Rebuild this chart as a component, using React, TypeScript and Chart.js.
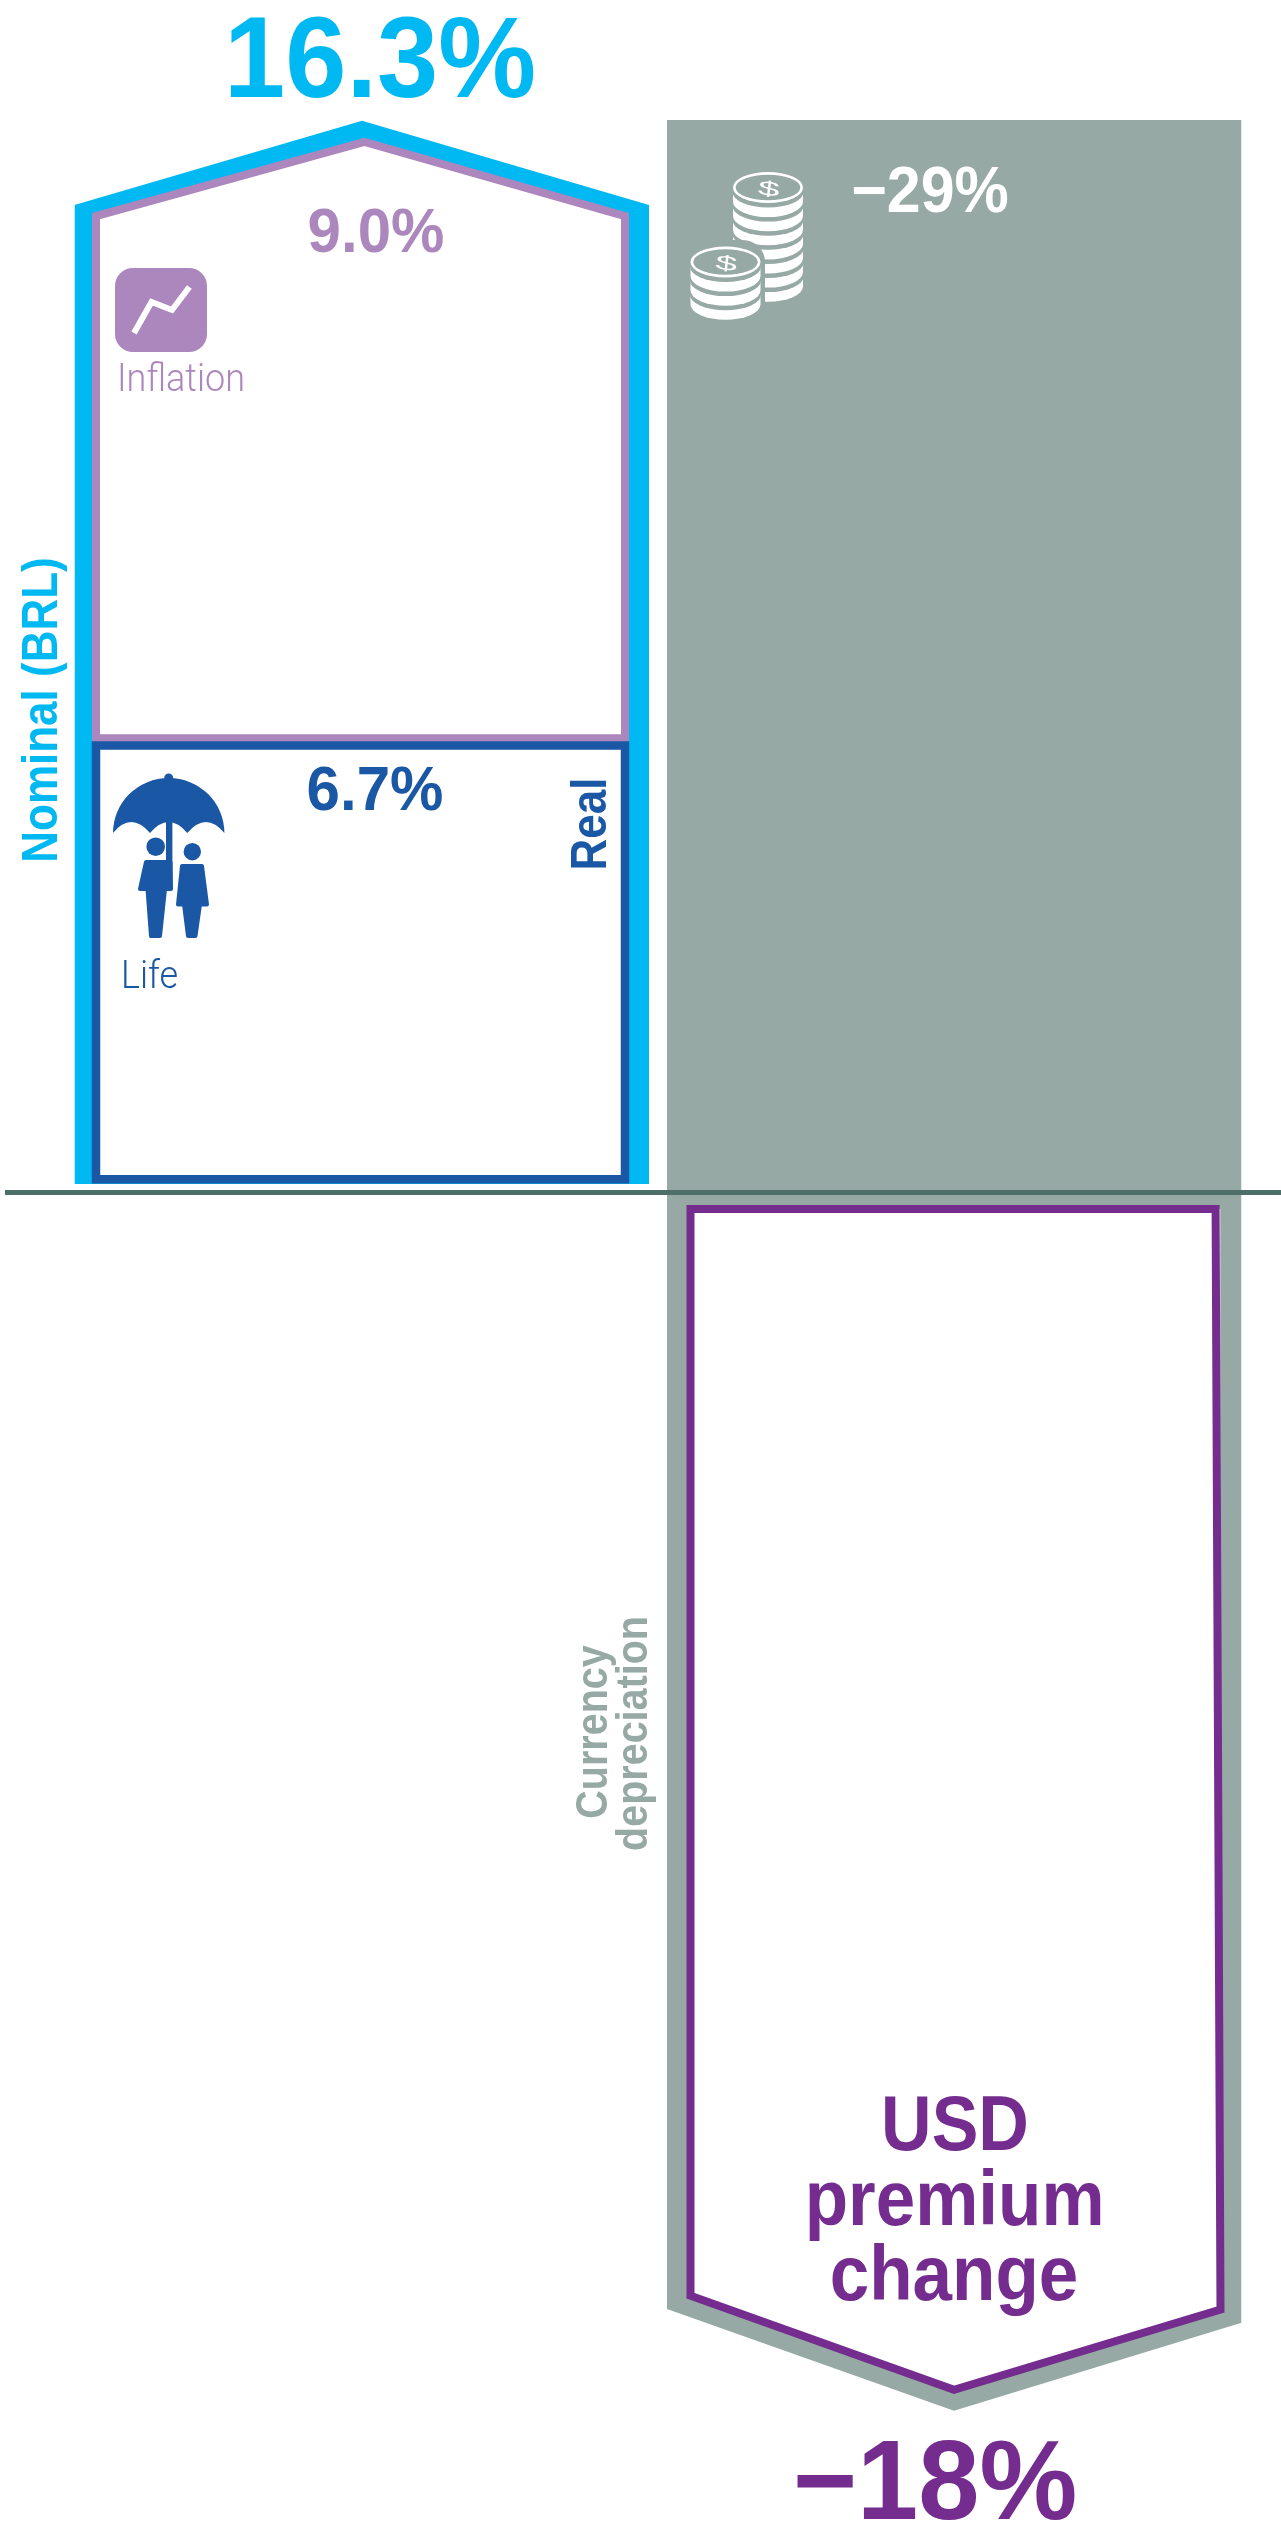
import React, { useEffect, useRef } from "react";
import { Chart, registerables } from "chart.js";

Chart.register(...registerables);

// ---- values (percent) ----
const segmentNames = ["Nominal (BRL)", "Inflation", "Real", "Currency depreciation", "USD premium change"];
const segmentLabels = ["16.3%", "9.0%", "6.7%", "\u221229%", "\u221218%"];
// extents of each drawn mark on the percent axis, as they stand in the picture
const nominalFrom = 0.13;
const nominalTip = 16.3;
const nominalShoulder = 15.02;
const inflationFrom = 6.91;
const inflationTip = 15.98;
const inflationShoulder = 14.85;
const realFrom = 0.2;
const realTo = 6.8;
const depreciationFrom = 16.31;
const depreciationShoulderLeft = -16.98;
const depreciationShoulderRight = -17.19;
const depreciationTip = -18.53;
const premiumFrom = -0.25;
const premiumShoulderLeft = -16.78;
const premiumShoulderRight = -16.99;
const premiumTip = -18.21;

// ---- layout ----
const W = 1281;
const H = 2523;
const ZERO_PX = 1192.5;
const PX_PER_PCT = 65.75;
const COL = {
  blue: "#00B9F2",
  lilac: "#AC87BD",
  navy: "#1A57A5",
  grey: "#97A9A4",
  rule: "#4E6E68",
  violet: "#752C8F",
  white: "#FFFFFF",
};
const X = {
  nomL: 74.5, nomMid: 362, nomR: 649,
  inL: 96, inMid: 364.5, inR: 625,
  depL: 667, depMid: 954, depR: 1241.5,
  preL: 690.5, preMid: 954, preRTop: 1215.6, preRBot: 1220.5,
  ruleL: 5, ruleR: 1281,
};

type P = { x: number; y: number };
const pts = (xs: number[], ys: number[]): P[] => xs.map((x, i) => ({ x, y: ys[i] }));

function buildDatasets() {
  const list: any[] = [];
  const area = (label: string, color: string, upper: P[], lower: P[]) => {
    const i = list.length;
    list.push({ label, data: upper, showLine: true, fill: i + 1, backgroundColor: color, borderWidth: 0, pointRadius: 0, tension: 0 });
    list.push({ label: label + " (lower edge)", data: lower, showLine: true, fill: false, borderWidth: 0, pointRadius: 0, tension: 0 });
  };
  const stroke = (label: string, color: string, width: number, data: P[]) => {
    list.push({ label, data, showLine: true, fill: false, borderColor: color, borderWidth: width, pointRadius: 0, tension: 0, borderJoinStyle: "miter", borderCapStyle: "butt" });
  };

  area(segmentNames[3], COL.grey,
    pts([X.depL, X.depR], [depreciationFrom, depreciationFrom]),
    pts([X.depL, X.depMid, X.depR], [depreciationShoulderLeft, depreciationTip, depreciationShoulderRight]));
  stroke("Zero line", COL.rule, 5, pts([X.ruleL, X.ruleR], [0, 0]));
  area(segmentNames[0], COL.blue,
    pts([X.nomL, X.nomMid, X.nomR], [nominalShoulder, nominalTip, nominalShoulder]),
    pts([X.nomL, X.nomR], [nominalFrom, nominalFrom]));
  area(segmentNames[1] + " inside", COL.white,
    pts([X.inL, X.inMid, X.inR], [inflationShoulder, inflationTip, inflationShoulder]),
    pts([X.inL, X.inR], [realFrom, realFrom]));
  area(segmentNames[4] + " inside", COL.white,
    pts([X.preL, X.preRBot], [premiumFrom, premiumFrom]),
    pts([X.preL, X.preMid, X.preRBot], [premiumShoulderLeft, premiumTip, premiumShoulderRight]));
  stroke(segmentNames[1], COL.lilac, 8,
    pts([X.inL, X.inL, X.inMid, X.inR, X.inR, X.inL],
      [(inflationFrom + inflationShoulder) / 2, inflationShoulder, inflationTip, inflationShoulder, inflationFrom, inflationFrom]).concat(
      pts([X.inL], [(inflationFrom + inflationShoulder) / 2])));
  stroke(segmentNames[2], COL.navy, 8.5,
    pts([X.inL, X.inL, X.inR, X.inR, X.inL, X.inL],
      [(realFrom + realTo) / 2, realTo, realTo, realFrom, realFrom, (realFrom + realTo) / 2]));
  stroke(segmentNames[4], COL.violet, 8,
    pts([X.preL, X.preL, X.preMid, X.preRBot, X.preRTop, X.preL, X.preL],
      [-8, premiumShoulderLeft, premiumTip, premiumShoulderRight, premiumFrom, premiumFrom, -8]));

  // first dataset is painted last in Chart.js, so order runs the other way round
  list.forEach((d, i) => (d.order = list.length - i));
  return list;
}

// ---- decoration painted on top of the marks ----
function text(ctx: CanvasRenderingContext2D, s: string, x: number, y: number, font: string, color: string, align: CanvasTextAlign = "center", rot = 0, sy = 1) {
  ctx.save();
  ctx.translate(x, y);
  if (rot) ctx.rotate(rot);
  if (sy !== 1) ctx.scale(1, sy);
  ctx.font = font;
  ctx.fillStyle = color;
  ctx.textAlign = align;
  ctx.textBaseline = "alphabetic";
  ctx.fillText(s, 0, 0);
  ctx.restore();
}

function lowerHalf(ctx: CanvasRenderingContext2D, cx: number, yc: number, rx: number, ry: number, up: number) {
  ctx.beginPath();
  ctx.moveTo(cx - rx, yc - up);
  ctx.lineTo(cx - rx, yc);
  ctx.ellipse(cx, yc, rx, ry, 0, Math.PI, 0, true);
  ctx.lineTo(cx + rx, yc - up);
  ctx.closePath();
  ctx.fill();
}

function coinStack(ctx: CanvasRenderingContext2D, cx: number, cy: number, n: number, sp: number) {
  const rx = 35, ry = 15.5;
  for (let k = n; k >= 1; k--) {
    const yc = cy + k * sp;
    ctx.fillStyle = COL.white;
    lowerHalf(ctx, cx, yc, rx, ry, sp);
    ctx.fillStyle = COL.grey;
    lowerHalf(ctx, cx, yc - sp + 4.5, rx + 0.5, ry, 6);
  }
  ctx.fillStyle = COL.white;
  ctx.beginPath();
  ctx.ellipse(cx, cy, rx, ry, 0, 0, Math.PI * 2);
  ctx.fill();
  ctx.fillStyle = COL.grey;
  ctx.beginPath();
  ctx.ellipse(cx, cy, rx - 2.7, ry - 2.7, 0, 0, Math.PI * 2);
  ctx.fill();
  ctx.save();
  ctx.translate(cx, cy + 8);
  ctx.rotate(0.12);
  ctx.scale(1.5, 0.78);
  ctx.font = "400 26px 'Liberation Sans'";
  ctx.fillStyle = COL.white;
  ctx.textAlign = "center";
  ctx.fillText("$", 0, 0);
  ctx.restore();
}

function coins(ctx: CanvasRenderingContext2D) {
  coinStack(ctx, 768, 187.5, 7, 14.1);
  ctx.fillStyle = COL.grey;
  ctx.beginPath();
  ctx.roundRect(685, 240, 80, 85, 22);
  ctx.fill();
  coinStack(ctx, 725.5, 262, 3, 14.1);
}

function inflationIcon(ctx: CanvasRenderingContext2D) {
  ctx.fillStyle = COL.lilac;
  ctx.beginPath();
  ctx.roundRect(115, 268, 92, 84, 18);
  ctx.fill();
  ctx.strokeStyle = COL.white;
  ctx.lineWidth = 6;
  ctx.lineJoin = "miter";
  ctx.beginPath();
  ctx.moveTo(134, 333);
  ctx.lineTo(151.5, 302);
  ctx.lineTo(172, 310);
  ctx.lineTo(189.4, 287);
  ctx.stroke();
}

function poly(ctx: CanvasRenderingContext2D, p: number[][]) {
  ctx.beginPath();
  p.forEach(([x, y], i) => (i ? ctx.lineTo(x, y) : ctx.moveTo(x, y)));
  ctx.closePath();
  ctx.fill();
  ctx.stroke();
}

function lifeIcon(ctx: CanvasRenderingContext2D) {
  ctx.fillStyle = COL.navy;
  ctx.strokeStyle = COL.navy;
  ctx.lineJoin = "round";
  ctx.lineWidth = 4;
  const cx = 168.7;
  // canopy
  ctx.beginPath();
  ctx.moveTo(113, 833);
  ctx.ellipse(cx, 833, 55.7, 55, 0, Math.PI, 0, false);
  ctx.quadraticCurveTo(206, 811, 187.3, 833);
  ctx.quadraticCurveTo(cx, 811, 150, 833);
  ctx.quadraticCurveTo(131, 811, 113, 833);
  ctx.closePath();
  ctx.fill();
  ctx.beginPath();
  ctx.arc(cx, 778, 4.5, 0, Math.PI * 2);
  ctx.fill();
  ctx.fillRect(166, 820, 6.4, 65);
  // man
  ctx.beginPath();
  ctx.arc(155.7, 846.7, 9.3, 0, Math.PI * 2);
  ctx.fill();
  poly(ctx, [[146, 862], [170.5, 862], [171, 889], [165, 889], [160, 936], [151, 936], [147.5, 889], [140, 889]]);
  // woman
  ctx.beginPath();
  ctx.arc(192.3, 851.7, 8.7, 0, Math.PI * 2);
  ctx.fill();
  poly(ctx, [[182, 866], [202, 866], [207, 904.5], [200, 904.5], [195.5, 936], [188, 936], [184, 904.5], [178, 904.5]]);
}

const paint = {
  id: "paint",
  afterDatasetsDraw(chart: any) {
    const ctx: CanvasRenderingContext2D = chart.ctx;
    const B = "700 ";
    const F = "'Liberation Sans', Arial, sans-serif";
    const L = "300 36px Roboto, Inter, sans-serif";
    const R = -Math.PI / 2;
    coins(ctx);
    inflationIcon(ctx);
    lifeIcon(ctx);
    text(ctx, segmentLabels[0], 380, 97, B + "110px " + F, COL.blue, "center", 0, 1.04);
    text(ctx, segmentLabels[1], 376, 252, B + "60px " + F, COL.lilac, "center", 0, 1.05);
    text(ctx, segmentLabels[2], 375, 810, B + "60px " + F, COL.navy, "center", 0, 1.05);
    text(ctx, segmentLabels[3], 930, 212, B + "61px " + F, COL.white, "center", 0, 1.05);
    text(ctx, segmentLabels[4], 935, 2519, B + "110px " + F, COL.violet, "center", 0, 1.03);
    text(ctx, "Inflation", 117, 391, L, COL.lilac, "left", 0, 1.08);
    text(ctx, "Life", 121, 988, L, COL.navy, "left", 0, 1.08);
    // rotated names: stretched across the reading direction
    text(ctx, "Nominal (BRL)", 57, 710, B + "44px " + F, COL.blue, "center", R, 1.12);
    text(ctx, "Real", 606, 824, B + "44px " + F, COL.navy, "center", R, 1.12);
    text(ctx, "Currency", 606.7, 1732, B + "39.5px " + F, COL.grey, "center", R, 1.13);
    text(ctx, "depreciation", 646.7, 1733.5, B + "39.5px " + F, COL.grey, "center", R, 1.13);
    text(ctx, "USD", 955, 2150, B + "70px " + F, COL.violet, "center", 0, 1.12);
    text(ctx, "premium", 954.6, 2224.6, B + "71px " + F, COL.violet, "center", 0, 1.1);
    text(ctx, "change", 954, 2300, B + "71px " + F, COL.violet, "center", 0, 1.1);
  },
};

export default function App() {
  const ref = useRef<HTMLCanvasElement | null>(null);
  useEffect(() => {
    document.body.style.margin = "0";
    const chart = new Chart(ref.current as HTMLCanvasElement, {
      type: "scatter",
      data: { datasets: buildDatasets() },
      options: {
        animation: false,
        responsive: false,
        devicePixelRatio: 1,
        layout: { padding: 0 },
        plugins: {
          legend: { display: false },
          tooltip: { enabled: false },
          title: { display: false },
          filler: { drawTime: "beforeDatasetDraw" },
        },
        scales: {
          x: { type: "linear", display: false, min: 0, max: W },
          y: { type: "linear", display: false, min: (ZERO_PX - H) / PX_PER_PCT, max: ZERO_PX / PX_PER_PCT },
        },
      } as any,
      plugins: [paint],
    });
    return () => chart.destroy();
  }, []);
  return <canvas ref={ref} width={W} height={H} style={{ display: "block" }} />;
}
